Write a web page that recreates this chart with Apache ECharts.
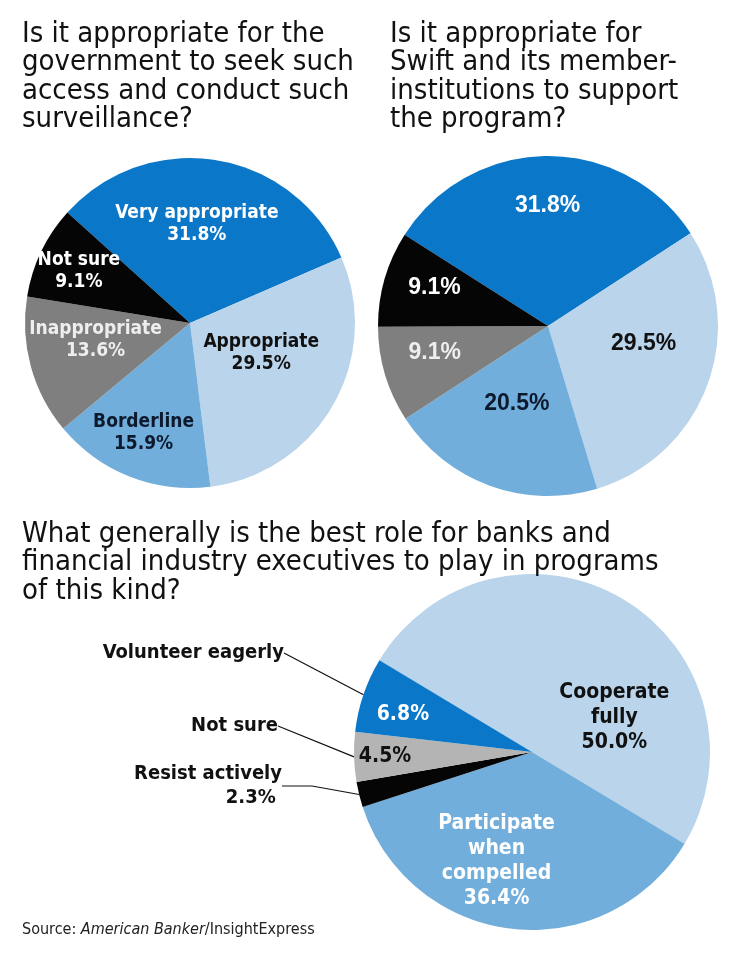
<!DOCTYPE html>
<html>
<head>
<meta charset="utf-8">
<script src="https://cdn.jsdelivr.net/npm/echarts@6/dist/echarts.min.js"></script>
<style>
  html, body { margin: 0; padding: 0; background: #fff; }
  #chart { width: 740px; height: 969px; }
</style>
</head>
<body>
<div id="chart"></div>
<script>
// survey questions
const govTitle = 'Is it appropriate for the\ngovernment to seek such\naccess and conduct such\nsurveillance?'
const swiftTitle = 'Is it appropriate for\nSwift and its member-\ninstitutions to support\nthe program?'
const roleTitle = 'What generally is the best role for banks and\nfinancial industry executives to play in programs\nof this kind?'

// answers (percent)
const govNames = ['Very appropriate', 'Appropriate', 'Borderline', 'Inappropriate', 'Not sure']
const govValues = [31.8, 29.5, 15.9, 13.6, 9.1]
const swiftNames = ['Very appropriate', 'Appropriate', 'Borderline', 'Inappropriate', 'Not sure']
const swiftValues = [31.8, 29.5, 20.5, 9.1, 9.1]
const roleNames = ['Cooperate fully', 'Participate when compelled', 'Resist actively', 'Not sure', 'Volunteer eagerly']
const roleValues = [50.0, 36.4, 2.3, 4.5, 6.8]

const DARK = '#0a77c8'
const LIGHT = '#b9d4eb'
const MID = '#72aedb'
const GREY = '#7f7f7f'
const LGREY = '#b4b4b4'
const BLACK = '#050505'

const cond = '"Liberation Sans Narrow", "DejaVu Sans Condensed", "Liberation Sans", sans-serif'

const chart = echarts.init(document.getElementById('chart'))

const pct = (v) => v.toFixed(1) + '%'

function buildData(names, values, colors, textColors) {
  return names.map((n, i) => ({
    name: n,
    value: values[i],
    itemStyle: { color: colors[i] },
    label: { color: textColors[i] },
  }))
}

// nudge inside labels
function nudge(list) {
  return function (params) {
    const d = list[params.dataIndex] || [0, 0]
    return { dx: d[0], dy: d[1] }
  }
}

const titleStyle = { fontFamily: cond, fontSize: 29, fontWeight: 'normal', lineHeight: 28.5, color: '#111' }

const option = {
  backgroundColor: '#fff',
  animation: false,
  title: [
    { text: govTitle, left: 22, top: 20, padding: 0, textStyle: titleStyle },
    { text: swiftTitle, left: 390, top: 20, padding: 0, textStyle: titleStyle },
    { text: roleTitle, left: 22, top: 520, padding: 0, textStyle: titleStyle },
    {
      text: '{a|Source: }{b|American Banker}{a|/InsightExpress}', left: 22, top: 922, padding: 0,
      textStyle: {
        rich: {
          a: { fontFamily: cond, fontSize: 16, fontWeight: 'normal', color: '#222' },
          b: { fontFamily: cond, fontSize: 16, fontWeight: 'normal', color: '#222', fontStyle: 'italic' },
        },
      },
    },
  ],
  series: [
    {
      type: 'pie',
      center: [190, 323],
      radius: 165,
      startAngle: 138,
      clockwise: true,
      label: {
        position: 'inside',
        fontFamily: cond,
        fontWeight: 'bold',
        fontSize: 19,
        lineHeight: 22,
        formatter: (p) => p.name + '\n' + pct(p.value),
      },
      labelLayout: nudge([[-7, -15], [-3, -12], [-15, 31], [-12, -5], [-34, -15]]),
      data: buildData(govNames, govValues,
        [DARK, LIGHT, MID, GREY, BLACK],
        ['#fff', '#111', '#0d1a2e', '#eee', '#fff']),
    },
    {
      type: 'pie',
      center: [548, 326],
      radius: 170,
      startAngle: 147.5,
      clockwise: true,
      label: {
        position: 'inside',
        fontFamily: 'Arial, "Liberation Sans", sans-serif',
        fontWeight: 'bold',
        fontSize: 23,
        formatter: (p) => pct(p.value),
      },
      labelLayout: nudge([[0, -32], [13, -13], [-1, -5], [-29, 1], [-29, -14]]),
      data: buildData(swiftNames, swiftValues,
        [DARK, LIGHT, MID, GREY, BLACK],
        ['#fff', '#111', '#0d1a2e', '#eee', '#fff']),
    },
    {
      type: 'pie',
      center: [532, 752],
      radius: 178,
      startAngle: 149,
      clockwise: true,
      label: {
        position: 'inside',
        fontFamily: cond,
        fontWeight: 'bold',
        fontSize: 21,
        lineHeight: 25,
        formatter: (p) => {
          if (p.dataIndex === 0) return 'Cooperate\nfully\n' + pct(p.value)
          if (p.dataIndex === 1) return 'Participate\nwhen\ncompelled\n' + pct(p.value)
          if (p.dataIndex === 2) return ''
          return pct(p.value)
        },
      },
      labelLayout: nudge([[35, 44], [-25, 18], [0, 0], [-55, 2], [-42, -8]]),
      data: buildData(roleNames, roleValues,
        [LIGHT, MID, BLACK, LGREY, DARK],
        ['#111', '#fff', '#fff', '#111', '#fff']),
    },
    {
      // names of the thin slices, pulled out to the left
      type: 'pie',
      center: [532, 752],
      radius: 178,
      startAngle: 149,
      clockwise: true,
      silent: true,
      itemStyle: { color: 'rgba(0,0,0,0)' },
      label: {
        position: 'outside',
        fontFamily: cond,
        fontWeight: 'bold',
        fontSize: 20,
        lineHeight: 24,
        color: '#111',
        formatter: (p) => {
          if (p.dataIndex < 2) return ''
          if (p.dataIndex === 2) return p.name + '\n' + pct(p.value) + ' '
          return p.name
        },
      },
      labelLine: { show: true, length2: 0, lineStyle: { color: '#111', width: 1.2 } },
      labelLayout: function (params) {
        const pos = [null, null, [282, 786], [278, 726], [284, 653]][params.dataIndex]
        if (!pos) return {}
        return { x: pos[0], y: pos[1], align: 'right', verticalAlign: 'middle' }
      },
      data: roleNames.map((n, i) => ({
        name: n,
        value: roleValues[i],
        labelLine: { show: i >= 2, length2: i === 2 ? 30 : 0 },
      })),
    },
  ],
}

chart.setOption(option)
</script>
</body>
</html>
